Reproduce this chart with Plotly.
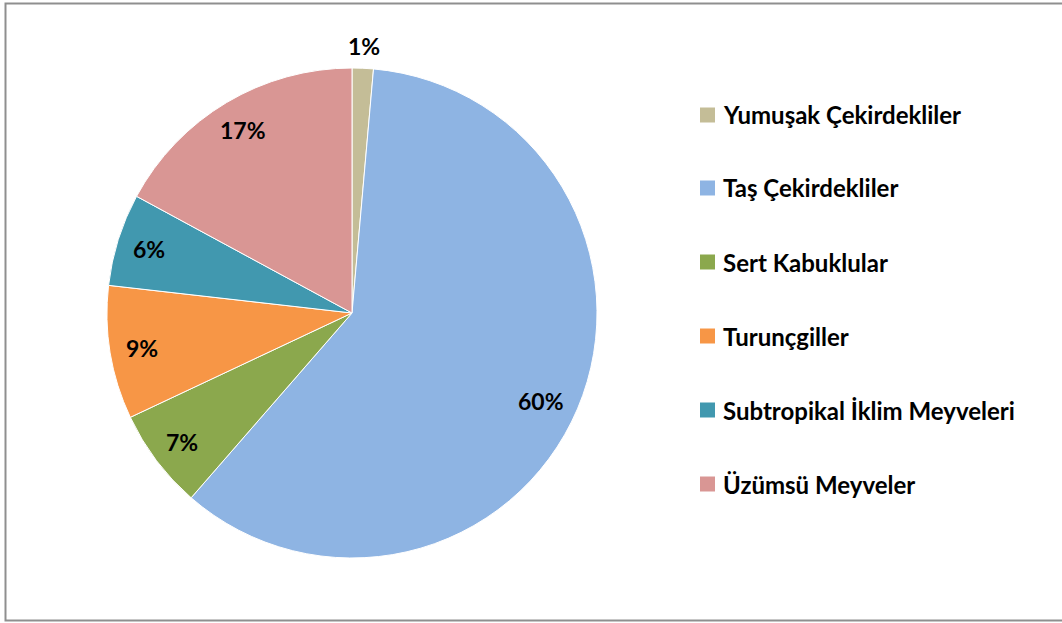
import math
import plotly.graph_objects as go

labels = ["Yumuşak Çekirdekliler", "Taş Çekirdekliler", "Sert Kabuklular",
          "Turunçgiller", "Subtropikal İklim Meyveleri", "Üzümsü Meyveler"]
values = [1.4, 60.0, 6.6, 8.8, 6.1, 17.1]
colors = ["#C4BD97", "#8EB4E3", "#8BA84D", "#F79646", "#4198AF", "#D99694"]

W, H = 1062, 623
FONT = "Lato"
CX, CY, R = 352, 313, 245  # pie centre / radius in pixels (layout)

fig = go.Figure()
fig.add_trace(go.Pie(
    labels=labels, values=values, sort=False, direction="clockwise", rotation=0,
    marker=dict(colors=colors, line=dict(color="white", width=1)),
    textinfo="none",
    showlegend=False, hoverinfo="label+percent",
    domain=dict(x=[(CX - R) / W, (CX + R) / W], y=[1 - (CY + R) / H, 1 - (CY - R) / H]),
))

# percentage labels placed along each slice's mid-angle (derived from the values)
total = sum(values)
annotations = []
cum = 0.0
for i, v in enumerate(values):
    share = v / total
    mid = (cum + v / 2) / total * 2 * math.pi
    cum += v
    if share < 0.03:
        rr = R * 1.09
    elif share > 0.5:
        rr = R * 0.85
        mid += math.radians(2)
    else:
        rr = R * 0.87
    px = CX + rr * math.sin(mid)
    py = CY - rr * math.cos(mid)
    annotations.append(dict(x=px / W, y=1 - py / H, xref="paper", yref="paper",
                            text=f"<b>{round(share * 100)}%</b>", showarrow=False,
                            xanchor="center", yanchor="middle",
                            font=dict(family=FONT, size=23, color="black")))

shapes = [dict(type="rect", xref="paper", yref="paper", x0=5.5 / W, x1=1.02, y0=1 - 620.5 / H, y1=1 - 3.5 / H,
               line=dict(color="#8F8F8F", width=2), fillcolor="rgba(0,0,0,0)", layer="below")]
legend_y = [115, 188, 262, 336, 410, 484]
for lab, col, yy in zip(labels, colors, legend_y):
    shapes.append(dict(type="rect", xref="paper", yref="paper",
                       x0=700 / W, x1=715 / W, y0=1 - (yy + 7.5) / H, y1=1 - (yy - 7.5) / H,
                       line=dict(width=0), fillcolor=col))
    annotations.append(dict(x=721 / W, y=1 - yy / H, xref="paper", yref="paper",
                            text=f"<b>{lab}</b>", showarrow=False, xanchor="left", yanchor="middle",
                            font=dict(family=FONT, size=24, color="black")))

fig.update_layout(
    width=W, height=H, margin=dict(l=0, r=0, t=0, b=0),
    paper_bgcolor="white", plot_bgcolor="white",
    shapes=shapes, annotations=annotations,
)
fig.write_html("out.html", config={"displayModeBar": False},
               post_script="document.body.style.margin='0px';")
